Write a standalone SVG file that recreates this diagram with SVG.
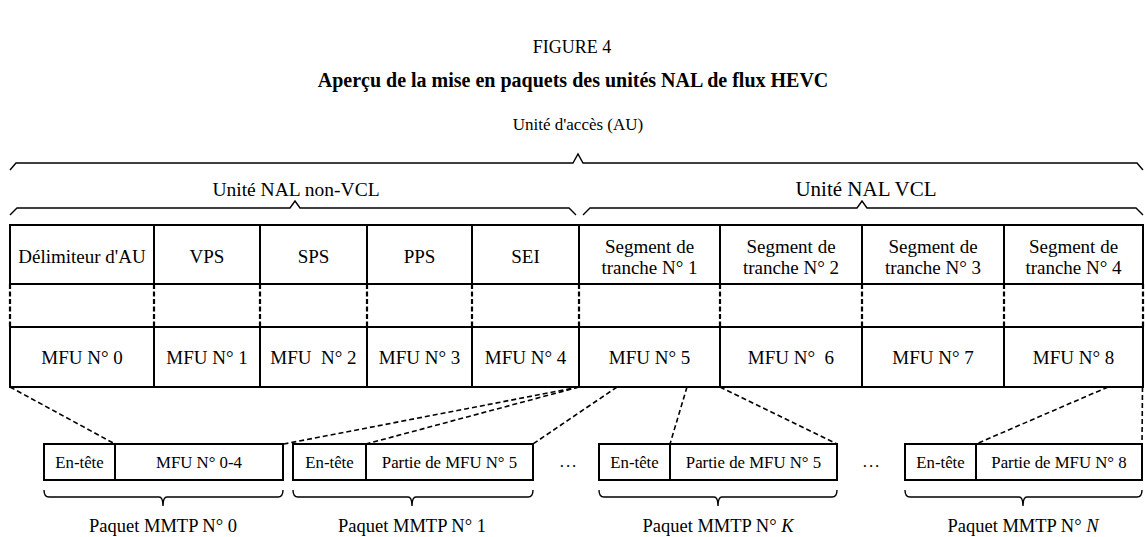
<svg xmlns="http://www.w3.org/2000/svg" width="1145" height="537" viewBox="0 0 1145 537">
<style>
text{font-family:"Liberation Serif","Times New Roman",serif;fill:#000;text-anchor:middle;white-space:pre}
.t{font-size:19px}
.s{font-size:16.8px}
.lbl{font-size:18.5px}
.cell{fill:#fff;stroke:#000;stroke-width:2}
.brace{fill:none;stroke:#000;stroke-width:1.4}
.dash{fill:none;stroke:#000;stroke-width:1.6;stroke-dasharray:5,3}
.vdash{fill:none;stroke:#000;stroke-width:2.2;stroke-dasharray:5,2.5}
</style>
<rect width="1145" height="537" fill="#fff"/>
<g id="title">
<text x="572" y="53" style="font-size:18px">FIGURE 4</text>
<text x="573" y="87" style="font-size:20px;font-weight:bold">Aperçu de la mise en paquets des unités NAL de flux HEVC</text>
</g>
<g id="braces">
<path class="brace" d="M10,170 L16,163 L573,163 L578,154 L583,163 L1137,163 L1143,170"/>
<path class="brace" d="M10,215 L17,208 L290,208 L295,201 L300,208 L569,208 L576,215"/>
<path class="brace" d="M583,215 L590,208 L857,208 L862,201 L867,208 L1136,208 L1143,215"/>
<path class="brace" d="M44,490 Q44,497 49,497 L159,497 Q163,497 163,506 Q163,497 167,497 L278,497 Q283,497 283,490"/>
<path class="brace" d="M293,490 Q293,497 298,497 L408,497 Q412,497 412,506 Q412,497 416,497 L528,497 Q533,497 533,490"/>
<path class="brace" d="M599,490 Q599,497 604,497 L714,497 Q718,497 718,506 Q718,497 722,497 L832,497 Q837,497 837,490"/>
<path class="brace" d="M905,490 Q905,497 910,497 L1019,497 Q1023,497 1023,506 Q1023,497 1027,497 L1137,497 Q1142,497 1142,490"/>
</g>
<g id="label-au"><text x="578" y="130" style="font-size:17px">Unité d'accès (AU)</text></g>
<g id="label-nonvcl"><text x="296" y="196" style="font-size:19.5px">Unité NAL non-VCL</text></g>
<g id="label-vcl"><text x="866" y="196" style="font-size:21px">Unité NAL VCL</text></g>
<g id="connectors">
<path class="vdash" d="M10,284V327M154,284V327M260,284V327M367,284V327M472,284V327M579,284V327M720,284V327M862,284V327M1004,284V327M1143,284V327"/>
<path class="dash" d="M10,387L115,444"/>
<path class="dash" d="M579,387L284,444"/>
<path class="dash" d="M579,387L366,444"/>
<path class="dash" d="M617,387L533,444"/>
<path class="dash" d="M687,387L670,444"/>
<path class="dash" d="M720,387L837,444"/>
<path class="dash" d="M1108,387L976,444"/>
<path class="dash" d="M1142.5,387L1142,444"/>
</g>
<g id="nal-au-delim"><rect class="cell" x="10" y="225" width="144" height="59"/><text class="t" x="82" y="263">Délimiteur d'AU</text></g>
<g id="nal-vps"><rect class="cell" x="154" y="225" width="106" height="59"/><text class="t" x="207" y="263">VPS</text></g>
<g id="nal-sps"><rect class="cell" x="260" y="225" width="107" height="59"/><text class="t" x="313.5" y="263">SPS</text></g>
<g id="nal-pps"><rect class="cell" x="367" y="225" width="105" height="59"/><text class="t" x="419.5" y="263">PPS</text></g>
<g id="nal-sei"><rect class="cell" x="472" y="225" width="107" height="59"/><text class="t" x="525.5" y="263">SEI</text></g>
<g id="nal-seg1"><rect class="cell" x="579" y="225" width="141" height="59"/><text class="t" x="649.5" y="253">Segment de</text><text class="t" x="649.5" y="274">tranche N° 1</text></g>
<g id="nal-seg2"><rect class="cell" x="720" y="225" width="142" height="59"/><text class="t" x="791" y="253">Segment de</text><text class="t" x="791" y="274">tranche N° 2</text></g>
<g id="nal-seg3"><rect class="cell" x="862" y="225" width="142" height="59"/><text class="t" x="933" y="253">Segment de</text><text class="t" x="933" y="274">tranche N° 3</text></g>
<g id="nal-seg4"><rect class="cell" x="1004" y="225" width="139" height="59"/><text class="t" x="1073.5" y="253">Segment de</text><text class="t" x="1073.5" y="274">tranche N° 4</text></g>
<g id="mfu0"><rect class="cell" x="10" y="327" width="144" height="60"/><text class="t" x="82" y="364">MFU N° 0</text></g>
<g id="mfu1"><rect class="cell" x="154" y="327" width="106" height="60"/><text class="t" x="207" y="364">MFU N° 1</text></g>
<g id="mfu2"><rect class="cell" x="260" y="327" width="107" height="60"/><text class="t" x="313.5" y="364">MFU  N° 2</text></g>
<g id="mfu3"><rect class="cell" x="367" y="327" width="105" height="60"/><text class="t" x="419.5" y="364">MFU N° 3</text></g>
<g id="mfu4"><rect class="cell" x="472" y="327" width="107" height="60"/><text class="t" x="525.5" y="364">MFU N° 4</text></g>
<g id="mfu5"><rect class="cell" x="579" y="327" width="141" height="60"/><text class="t" x="649.5" y="364">MFU N° 5</text></g>
<g id="mfu6"><rect class="cell" x="720" y="327" width="142" height="60"/><text class="t" x="791" y="364">MFU N°  6</text></g>
<g id="mfu7"><rect class="cell" x="862" y="327" width="142" height="60"/><text class="t" x="933" y="364">MFU N° 7</text></g>
<g id="mfu8"><rect class="cell" x="1004" y="327" width="139" height="60"/><text class="t" x="1073.5" y="364">MFU N° 8</text></g>
<g id="packet0"><rect class="cell" x="44" y="444" width="71" height="36"/><rect class="cell" x="115" y="444" width="168" height="36"/><text class="s" x="79.5" y="468">En-tête</text><text class="s" x="199" y="468">MFU N° 0-4</text></g>
<g id="packet1"><rect class="cell" x="293" y="444" width="73" height="36"/><rect class="cell" x="366" y="444" width="167" height="36"/><text class="s" x="329.5" y="468">En-tête</text><text class="s" x="449.5" y="468">Partie de MFU N° 5</text></g>
<g id="packetK"><rect class="cell" x="599" y="444" width="71" height="36"/><rect class="cell" x="670" y="444" width="167" height="36"/><text class="s" x="634.5" y="468">En-tête</text><text class="s" x="753.5" y="468">Partie de MFU N° 5</text></g>
<g id="packetN"><rect class="cell" x="905" y="444" width="71" height="36"/><rect class="cell" x="976" y="444" width="166" height="36"/><text class="s" x="940.5" y="468">En-tête</text><text class="s" x="1059" y="468">Partie de MFU N° 8</text></g>
<g id="dots1"><text class="s" x="569" y="467" style="letter-spacing:2px">...</text></g>
<g id="dots2"><text class="s" x="872" y="467" style="letter-spacing:2px">...</text></g>
<g id="label-p0"><text class="lbl" x="163" y="532">Paquet MMTP N° 0</text></g>
<g id="label-p1"><text class="lbl" x="412" y="532">Paquet MMTP N° 1</text></g>
<g id="label-pK"><text class="lbl" x="718" y="532">Paquet MMTP N° <tspan font-style="italic">K</tspan></text></g>
<g id="label-pN"><text class="lbl" x="1023" y="532">Paquet MMTP N° <tspan font-style="italic">N</tspan></text></g>
</svg>
